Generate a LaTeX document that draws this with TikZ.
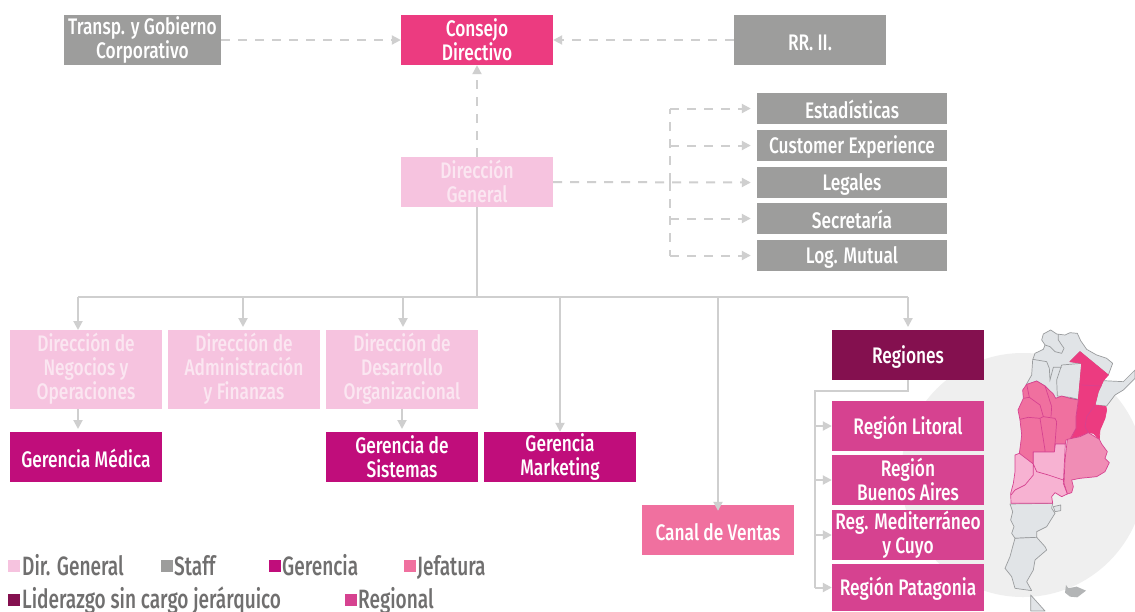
\documentclass[tikz,border=0pt]{standalone}
\usepackage{fontspec}
\setmainfont{Fira Sans Medium}[FakeStretch=0.77]
\newfontfamily\legfont{Fira Sans Medium}[FakeStretch=0.72]
\usetikzlibrary{arrows.meta}
\definecolor{cgrey}{HTML}{9D9D9C}
\definecolor{cconsejo}{HTML}{EC3B80}
\definecolor{cdir}{HTML}{F6C3DF}
\definecolor{cdirtxt}{HTML}{FBE6F1}
\definecolor{cger}{HTML}{C00D7B}
\definecolor{cjef}{HTML}{F0709F}
\definecolor{clid}{HTML}{84104F}
\definecolor{creg}{HTML}{D64290}
\definecolor{cline}{HTML}{CFCFCF}
\definecolor{clegtxt}{HTML}{706F6F}
\definecolor{cmapg}{HTML}{E1E4E7}
\definecolor{cmapl}{HTML}{9A9C9E}
\definecolor{cmapb}{HTML}{F08DB5}
\definecolor{cmapp}{HTML}{F7B2D2}
\definecolor{cdisc}{HTML}{EFEFEF}
\tikzset{
 x=1pt,y=-1pt,
 boxn/.style={draw=none,inner sep=0pt,align=center,text=white,font=\fontsize{22.5}{24}\selectfont,minimum width=152pt,minimum height=50pt,
   execute at begin node={\leavevmode\vrule width 0pt height 21pt depth 0pt},
   execute at end node={\vrule width 0pt height 0pt depth 1pt}},
 tallbox/.style={minimum height=79pt,execute at end node={\vrule width 0pt height 0pt depth 6pt}},
 staffbox/.style={boxn,fill=cgrey,minimum width=190pt,minimum height=31pt},
 grey/.style={boxn,fill=cgrey},
 dirbox/.style={boxn,fill=cdir,text=cdirtxt},
 gerbox/.style={boxn,fill=cger},
 regbox/.style={boxn,fill=creg},
 solidc/.style={draw=cline,line width=2pt,-{Triangle[length=9pt,width=9pt]}},
 plainc/.style={draw=cline,line width=2pt},
 dashc/.style={draw=cline,line width=2pt,dash pattern=on 9pt off 8pt,-{Triangle[length=9pt,width=9pt]}},
 dashp/.style={draw=cline,line width=2pt,dash pattern=on 9pt off 8pt},
 legsq/.style={minimum size=12pt,inner sep=0pt,draw=none},
 legtxt/.style={anchor=base west,inner sep=0pt,text=clegtxt,font=\legfont\fontsize{26.5}{26.5}\selectfont},
 mapg/.style={fill=cmapg,draw=cmapl,line width=.7pt,line join=round},
 mapp/.style={draw=#1,line width=.7pt,line join=round},
}
\begin{document}
\begin{tikzpicture}
\useasboundingbox (0,0) rectangle (1135,611);
\fill[white] (0,0) rectangle (1135,611);
\begin{scope}
\clip (0,0) rectangle (1135,611);
\fill[cdisc] (1023,475) circle[radius=122];
\begin{scope}[shift={(990,320)},x=.3333pt,y=-.3333pt]
 % grey north
 \draw[mapg] (182,30)--(160,42)--(155,60)--(165,75)--(160,88)--(135,100)--(128,120)--(125,165)--(108,195)--(140,183)--(165,198)--(197,235)--(240,235)--(265,240)--(275,130)--(240,125)--(270,95)--(355,165)--(368,130)--(350,115)--(320,105)--(290,88)--(272,62)--(262,40)--(240,38)--(225,45)--(200,42)--cycle;
 \draw[mapg] (215,135)--(275,130)--(265,238)--(240,232)--(202,228)--(200,180)--cycle;
 \draw[cmapl,line width=.7pt] (128,118)--(170,125)--(178,145)--(180,180)--(190,142)--(215,142) (205,42)--(205,60)--(222,85)--(215,100)--(195,95)--(180,80)--(165,75);
 \draw[mapg] (340,182)--(400,185)--(435,150)--(435,175)--(400,210)--(375,225)--(350,258)--(315,255)--(325,215)--cycle;
 % south
 \draw[mapg] (60,552)--(188,550)--(185,565)--(195,580)--(170,620)--(140,635)--(140,652)--(75,655)--(65,640)--(72,620)--(62,600)--(68,575)--cycle;
 \draw[mapg] (190,560)--(212,555)--(212,572)--(195,575)--cycle;
 \draw[mapg] (75,655)--(140,652)--(165,680)--(170,690)--(135,720)--(130,750)--(110,785)--(125,812)--(75,805)--(65,770)--(45,745)--(60,710)--(68,680)--cycle;
 \draw[mapg] (122,825)--(165,873)--(122,873)--cycle;
 \fill[cmapl!75] (228,795)--(235,805)--(260,800)--(288,812)--(262,832)--(240,830)--(225,818)--cycle;
 % Litoral
 \draw[mapp=cconsejo,fill=cconsejo] (270,95)--(355,165)--(340,182)--(325,215)--(315,255)--(348,260)--(350,270)--(345,295)--(330,330)--(328,358)--(310,340)--(295,338)--(270,348)--(243,357)--(258,325)--(258,290)--(265,240)--(275,130)--(240,125)--cycle;
 % Mediterraneo y Cuyo
 \draw[mapp=creg,fill=cjef] (110,193)--(140,183)--(165,198)--(190,222)--(197,235)--(215,228)--(240,235)--(265,240)--(258,290)--(258,325)--(240,358)--(228,360)--(226,372)--(196,372)--(193,396)--(130,396)--(130,432)--(105,420)--(88,400)--(92,370)--(95,345)--(90,300)--(84,270)--(100,235)--(98,210)--cycle;
 \draw[creg,line width=.7pt] (110,193)--(118,232)--(150,255)--(160,290) (165,198)--(185,260)--(183,290) (90,298)--(115,292)--(150,295)--(160,290)--(195,295)--(200,305)--(195,372)--(193,396) (150,295)--(165,390)--(165,396) (118,232)--(100,235);
 % Buenos Aires
 \draw[mapp=creg,fill=cmapb] (232,358)--(270,350)--(295,338)--(328,358)--(335,372)--(352,395)--(345,415)--(358,428)--(345,455)--(320,470)--(270,475)--(245,480)--(250,500)--(245,518)--(232,522)--(222,490)--(225,420)--cycle;
 % Patagonia / La Pampa
 \draw[mapp=creg,fill=cmapp] (75,405)--(88,400)--(130,432)--(130,396)--(193,396)--(196,372)--(226,372)--(220,490)--(232,522)--(215,530)--(195,518)--(185,530)--(188,550)--(63,550)--(62,520)--(70,490)--(75,455)--cycle;
 \draw[creg,line width=.7pt] (130,432)--(130,465)--(105,495)--(75,510)--(63,525) (130,432)--(140,455)--(175,465)--(220,480);
 \draw[creg,line width=.7pt] (275,195)--(335,198) (315,255)--(290,290)--(285,320)--(295,338);
\end{scope}
\end{scope}

% nodes
\node[grey,minimum width=157pt] (transp) at (142.5,40) {Transp. y Gobierno\\Corporativo};
\node[boxn,fill=cconsejo] (consejo) at (477,40) {Consejo\\Directivo};
\node[grey] (rrii) at (810,40) {RR. II.};
\node[dirbox] (dirg) at (477,182) {Dirección\\General};
\node[staffbox] (est) at (852,108.5) {Estadísticas};
\node[staffbox] (cust) at (852,145.5) {Customer Experience};
\node[staffbox] (leg) at (852,182.5) {Legales};
\node[staffbox] (sec) at (852,218.5) {Secretaría};
\node[staffbox] (log) at (852,255.5) {Log. Mutual};
\node[dirbox,tallbox] (neg) at (86,369.5) {Dirección de\\Negocios y\\Operaciones};
\node[dirbox,tallbox] (adm) at (244,369.5) {Dirección de\\Administración\\y Finanzas};
\node[dirbox,tallbox] (des) at (402,369.5) {Dirección de\\Desarrollo\\Organizacional};
\node[gerbox] (med) at (86,457) {Gerencia Médica};
\node[gerbox] (sis) at (402,457) {Gerencia de\\Sistemas};
\node[gerbox] (mkt) at (560,457) {Gerencia\\Marketing};
\node[boxn,fill=cjef] (canal) at (718,530) {Canal de Ventas};
\node[boxn,fill=clid] (regs) at (908,355) {Regiones};
\node[regbox] (lit) at (908,426) {Región Litoral};
\node[regbox] (ba) at (908,480) {Región\\Buenos Aires};
\node[regbox] (mc) at (908,535) {Reg. Mediterráneo\\y Cuyo};
\node[regbox,minimum height=47pt] (pat) at (908,587.5) {Región Patagonia};

% junction coordinates
\coordinate (hub) at (477,297);
\coordinate (bx) at (670,182);
\coordinate (hl) at (78,297);
\coordinate (brtop) at (908,391);
\coordinate (brl) at (815,391);

% dashed
\draw[dashc] (transp.east) -- (consejo.west);
\draw[dashc] (rrii.west) -- (consejo.east);
\draw[dashc] (dirg.north) -- (consejo.south);
\draw[dashc] (dirg.east) -- ([xshift=-6pt]leg.west);
\draw[dashp] (bx) -- (bx|-est) ;
\draw[dashp] (bx) -- (bx|-log);
\draw[dashc] (bx|-est) -- ([xshift=-6pt]est.west);
\draw[dashc] (bx|-cust) -- ([xshift=-6pt]cust.west);
\draw[dashc] (bx|-sec) -- ([xshift=-6pt]sec.west);
\draw[dashc] (bx|-log) -- ([xshift=-6pt]log.west);

% solid
\draw[plainc] (dirg.south) -- (hub);
\draw[plainc] (hl) -- (hub|-hl) -- (908,297);
\draw[solidc] (78,297) -- (78,330);
\draw[solidc] (243,297) -- (243,327);
\draw[solidc] (403,297) -- (403,327);
\draw[solidc] (560,297) -- (mkt.north);
\draw[solidc] (718,297) -- ([yshift=-6pt]canal.north);
\draw[solidc] (908,297) -- (908,327);
\draw[solidc] (78,409) -- (78,429);
\draw[solidc] (402,409) -- (402,429);
\draw[plainc] (regs.south) -- (brtop) -- (brl) -- (brl|-pat);
\draw[solidc] (brl|-lit) -- (lit.west);
\draw[solidc] (brl|-ba) -- (ba.west);
\draw[solidc] (brl|-mc) -- (mc.west);
\draw[solidc] (brl|-pat) -- (pat.west);

% legend
\node[legsq,fill=cdir] (l1) at (14,566) {};
\node[legtxt] (t1) at (22,575) {Dir. General};
\node[legsq,fill=cgrey] (l2) at (167,566) {};
\node[legtxt] (t2) at (174,575) {Staff};
\node[legsq,fill=cger] (l3) at (275,566) {};
\node[legtxt] (t3) at (282,575) {Gerencia};
\node[legsq,fill=cjef] (l4) at (410,566) {};
\node[legtxt] (t4) at (417,575) {Jefatura};
\node[legsq,fill=clid] (l5) at (14,600) {};
\node[legtxt] (t5) at (22,608.5) {Liderazgo sin cargo jerárquico};
\node[legsq,fill=creg] (l6) at (351,600) {};
\node[legtxt] (t6) at (358,608.5) {Regional};
\end{tikzpicture}
\end{document}
